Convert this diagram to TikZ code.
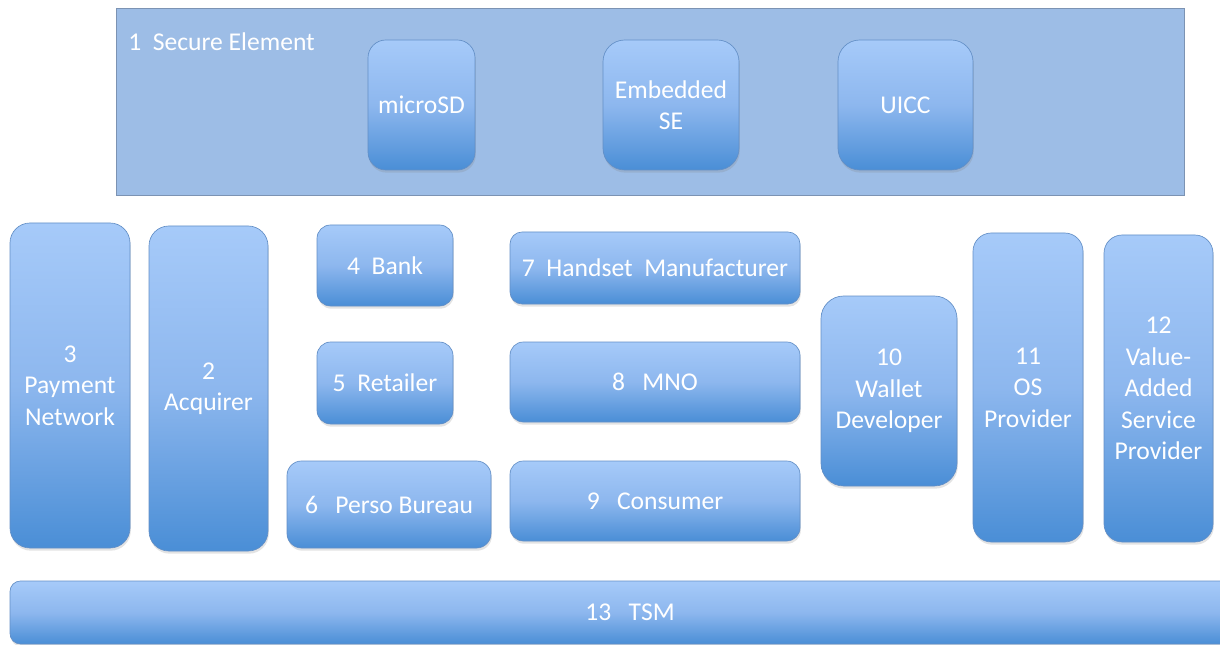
\documentclass[tikz,border=0pt]{standalone}
\usepackage{fontspec}
\setmainfont{Carlito}
\usetikzlibrary{shadows}
\definecolor{topc}{HTML}{A6CAF9}
\definecolor{midc}{HTML}{8DB7EE}
\definecolor{botc}{HTML}{4A8ED6}
\definecolor{edgec}{HTML}{638FC6}
\definecolor{sefill}{HTML}{9DBDE6}
\definecolor{seedge}{HTML}{7C93B3}
\tikzset{
  pb/.style={draw=edgec, line width=0.5pt, top color=topc, bottom color=botc, middle color=midc,
    text=white, align=center, inner sep=0pt,
    font=\fontsize{19.2}{23.6}\selectfont,
    drop shadow={opacity=0.22, shadow xshift=0.6pt, shadow yshift=-2pt}},
  secont/.style={draw=seedge, line width=0.6pt, fill=sefill},
  selabel/.style={text=white, anchor=west, inner sep=0pt, font=\fontsize{19.2}{23.6}\selectfont}
}
\newcommand\pbox[6]{%
  \pgfmathsetmacro\rcval{min(#4-#2,#5-#3)*0.125}%
  \pgfmathsetmacro\wval{(#4-#2)*0.75}%
  \pgfmathsetmacro\hval{(#5-#3)*0.75}%
  \node[pb, minimum width=\wval pt, minimum height=\hval pt, rounded corners=\rcval pt] (#1) at ({(#2+#4)/2},{(#3+#5)/2}) {#6};}
\begin{document}
\begin{tikzpicture}[x=0.75pt,y=-0.75pt]
\useasboundingbox (0,0) rectangle (1220,645);
\begin{scope}
\clip (0,0) rectangle (1220,645);
% Secure element container
\node[secont, minimum width={1068*0.75pt}, minimum height={187*0.75pt}, inner sep=0pt] (se) at (650,101.5) {};
\node[selabel] (selab) at (128,42) {1\ \ Secure Element};
\pbox{microsd}{368}{40}{475}{170}{microSD}
\pbox{ese}{603}{40}{739}{170}{Embedded\\SE}
\pbox{uicc}{838}{40}{973}{170}{UICC}
% columns
\pbox{payn}{10}{223}{130}{548}{3\\Payment\\Network}
\pbox{acq}{149}{226}{268}{551}{2\\Acquirer}
\pbox{bank}{317}{225}{453}{306}{4\ \ Bank}
\pbox{ret}{317}{342}{453}{424}{5\ \ Retailer}
\pbox{perso}{287}{461}{491}{548}{6\ \ \ Perso Bureau}
\pbox{hand}{510}{232}{800}{304}{7\ \ Handset\ \ Manufacturer}
\pbox{mno}{510}{342}{800}{422}{8\ \ \ MNO}
\pbox{cons}{510}{461}{800}{541}{9\ \ \ Consumer}
\pbox{wall}{821}{296}{957}{486}{10\\Wallet\\Developer}
\pbox{os}{973}{233}{1083}{542}{11\\OS\\Provider}
\pbox{vasp}{1104}{235}{1213}{542}{12\\Value-\\Added\\Service\\Provider}
\pbox{tsm}{10}{581}{1250}{644}{13\ \ \ TSM}
\end{scope}
\end{tikzpicture}
\end{document}
